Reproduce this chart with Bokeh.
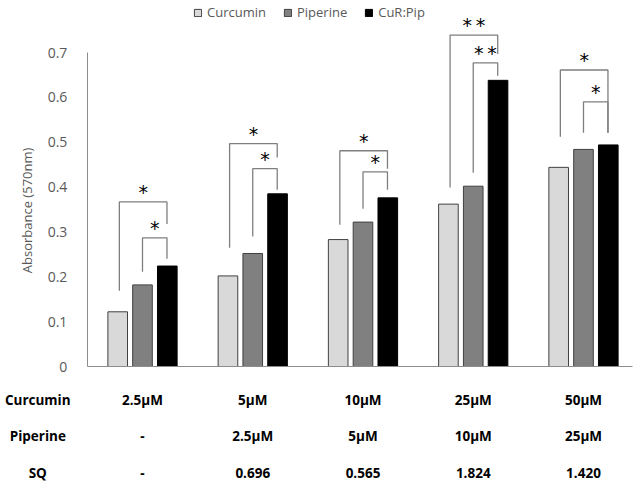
import math

from bokeh.core.properties import value
from bokeh.embed import file_html
from bokeh.models import (ColumnDataSource, FixedTicker, Label, Legend, LegendItem,
                          PrintfTickFormatter, Range1d)
from bokeh.plotting import figure
from bokeh.resources import INLINE
from bokeh.transform import dodge

# --- data ---
curcumin_conc = ["2.5µM", "5µM", "10µM", "25µM", "50µM"]
piperine_conc = ["-", "2.5µM", "5µM", "10µM", "25µM"]
sq_values = ["-", "0.696", "0.565", "1.824", "1.420"]
row_titles = ["Curcumin", "Piperine", "SQ"]

curcumin = [0.122, 0.202, 0.283, 0.362, 0.444]
piperine = [0.182, 0.252, 0.322, 0.402, 0.484]
cur_pip = [0.224, 0.385, 0.376, 0.638, 0.494]

y_ticks = [0, 0.1, 0.2, 0.3, 0.4, 0.5, 0.6, 0.7]

# significance brackets (absorbance levels)
outer_top = [0.367, 0.497, 0.481, 0.739, 0.661]
outer_left_end = [0.169, 0.265, 0.316, 0.399, 0.512]
outer_right_end = [0.318, 0.466, 0.441, 0.697, 0.521]
outer_sig = ["*", "*", "*", "**", "*"]
inner_top = [0.287, 0.441, 0.434, 0.677, 0.590]
inner_left_end = [0.211, 0.290, 0.352, 0.432, 0.521]
inner_right_end = [0.240, 0.394, 0.394, 0.648, 0.521]
inner_sig = ["*", "*", "*", "**", "*"]

FONT = "Open Sans"
GREY_TXT = "#595959"
AXIS_GREY = "#8c8c8c"

idx = list(range(len(curcumin_conc)))
src = ColumnDataSource(dict(x=idx, cur=curcumin, pip=piperine, cp=cur_pip))

# the frame covers the whole canvas; axes sit at fixed locations inside it
p = figure(width=638, height=486, output_backend="svg", toolbar_location=None,
           x_range=Range1d(-1.288, 4.499), y_range=Range1d(-0.2675, 0.816),
           min_border=0)
p.outline_line_color = None
p.xgrid.grid_line_color = None
p.ygrid.grid_line_color = None

step = 0.225
bw = 0.178
r1 = p.vbar(x=dodge("x", -step, range=p.x_range), top="cur", width=bw, source=src,
            fill_color="#d9d9d9", line_color="#404040", line_width=1)
r2 = p.vbar(x=dodge("x", 0, range=p.x_range), top="pip", width=bw, source=src,
            fill_color="#808080", line_color="#404040", line_width=1)
r3 = p.vbar(x=dodge("x", step, range=p.x_range), top="cp", width=bw, source=src,
            fill_color="#000000", line_color="#000000", line_width=1)

# brackets
ol, orr, il = -0.21, 0.222, 0.0
xs, ys = [], []
for i in idx:
    xs.append([i + ol, i + ol, i + orr, i + orr])
    ys.append([outer_left_end[i], outer_top[i], outer_top[i], outer_right_end[i]])
    xs.append([i + il, i + il, i + orr, i + orr])
    ys.append([inner_left_end[i], inner_top[i], inner_top[i], inner_right_end[i]])
p.multi_line(xs=xs, ys=ys, line_color="#7f7f7f", line_width=1.3)

star_src = ColumnDataSource(dict(
    x=[i + (ol + orr) / 2 for i in idx] + [i + (il + orr) / 2 for i in idx],
    y=outer_top + inner_top,
    t=["\u2009".join(s) for s in outer_sig + inner_sig],
))
p.text(x="x", y="y", text="t", source=star_src, text_align="center",
       text_baseline="middle", y_offset=-10, text_font=value("DejaVu Sans"),
       text_font_size="19px", text_color="#000000")

# y axis
p.yaxis.fixed_location = -0.5
p.yaxis.ticker = FixedTicker(ticks=y_ticks)
p.yaxis.formatter = PrintfTickFormatter(format="%g")
p.yaxis.bounds = (0, 0.7)
p.yaxis.axis_line_color = AXIS_GREY
p.yaxis.major_tick_line_color = None
p.yaxis.minor_tick_line_color = None
p.yaxis.major_label_standoff = 14
p.yaxis.major_label_text_font = FONT
p.yaxis.major_label_text_font_size = "14px"
p.yaxis.major_label_text_color = GREY_TXT

p.add_layout(Label(x=-1.045, y=0.348, text="Absorbance (570nm)", angle=math.pi / 2,
                   text_align="center", text_baseline="middle", text_font=FONT,
                   text_font_size="13px", text_color=GREY_TXT))

# x axis line only
p.xaxis.fixed_location = 0
p.xaxis.bounds = (-0.5, 4.444)
p.xaxis.ticker = FixedTicker(ticks=[])
p.xaxis.axis_line_color = AXIS_GREY
p.xaxis.major_tick_line_color = None
p.xaxis.minor_tick_line_color = None

# table under the chart
row_y = [-0.0736, -0.156, -0.2385]
tx, ty, tt = [], [], []
for row, labels in enumerate([curcumin_conc, piperine_conc, sq_values]):
    tx += [-0.95] + idx
    ty += [row_y[row]] * (len(idx) + 1)
    tt += [row_titles[row]] + labels
p.text(x=tx, y=ty, text=tt, text_align="center", text_baseline="middle",
       text_font=value(FONT), text_font_size="13.5px", text_font_style="bold",
       text_color="#000000")

legend = Legend(items=[LegendItem(label="Curcumin", renderers=[r1]),
                       LegendItem(label="Piperine", renderers=[r2]),
                       LegendItem(label="CuR:Pip", renderers=[r3])],
                orientation="horizontal", location=(193, 465),
                border_line_color=None, background_fill_alpha=0,
                glyph_width=9, glyph_height=9, label_standoff=5, spacing=17,
                padding=0, margin=0, label_height=14,
                label_text_font=FONT, label_text_font_size="13px", label_text_color=GREY_TXT)
p.add_layout(legend)

open("out.html", "w").write(file_html(p, INLINE))
